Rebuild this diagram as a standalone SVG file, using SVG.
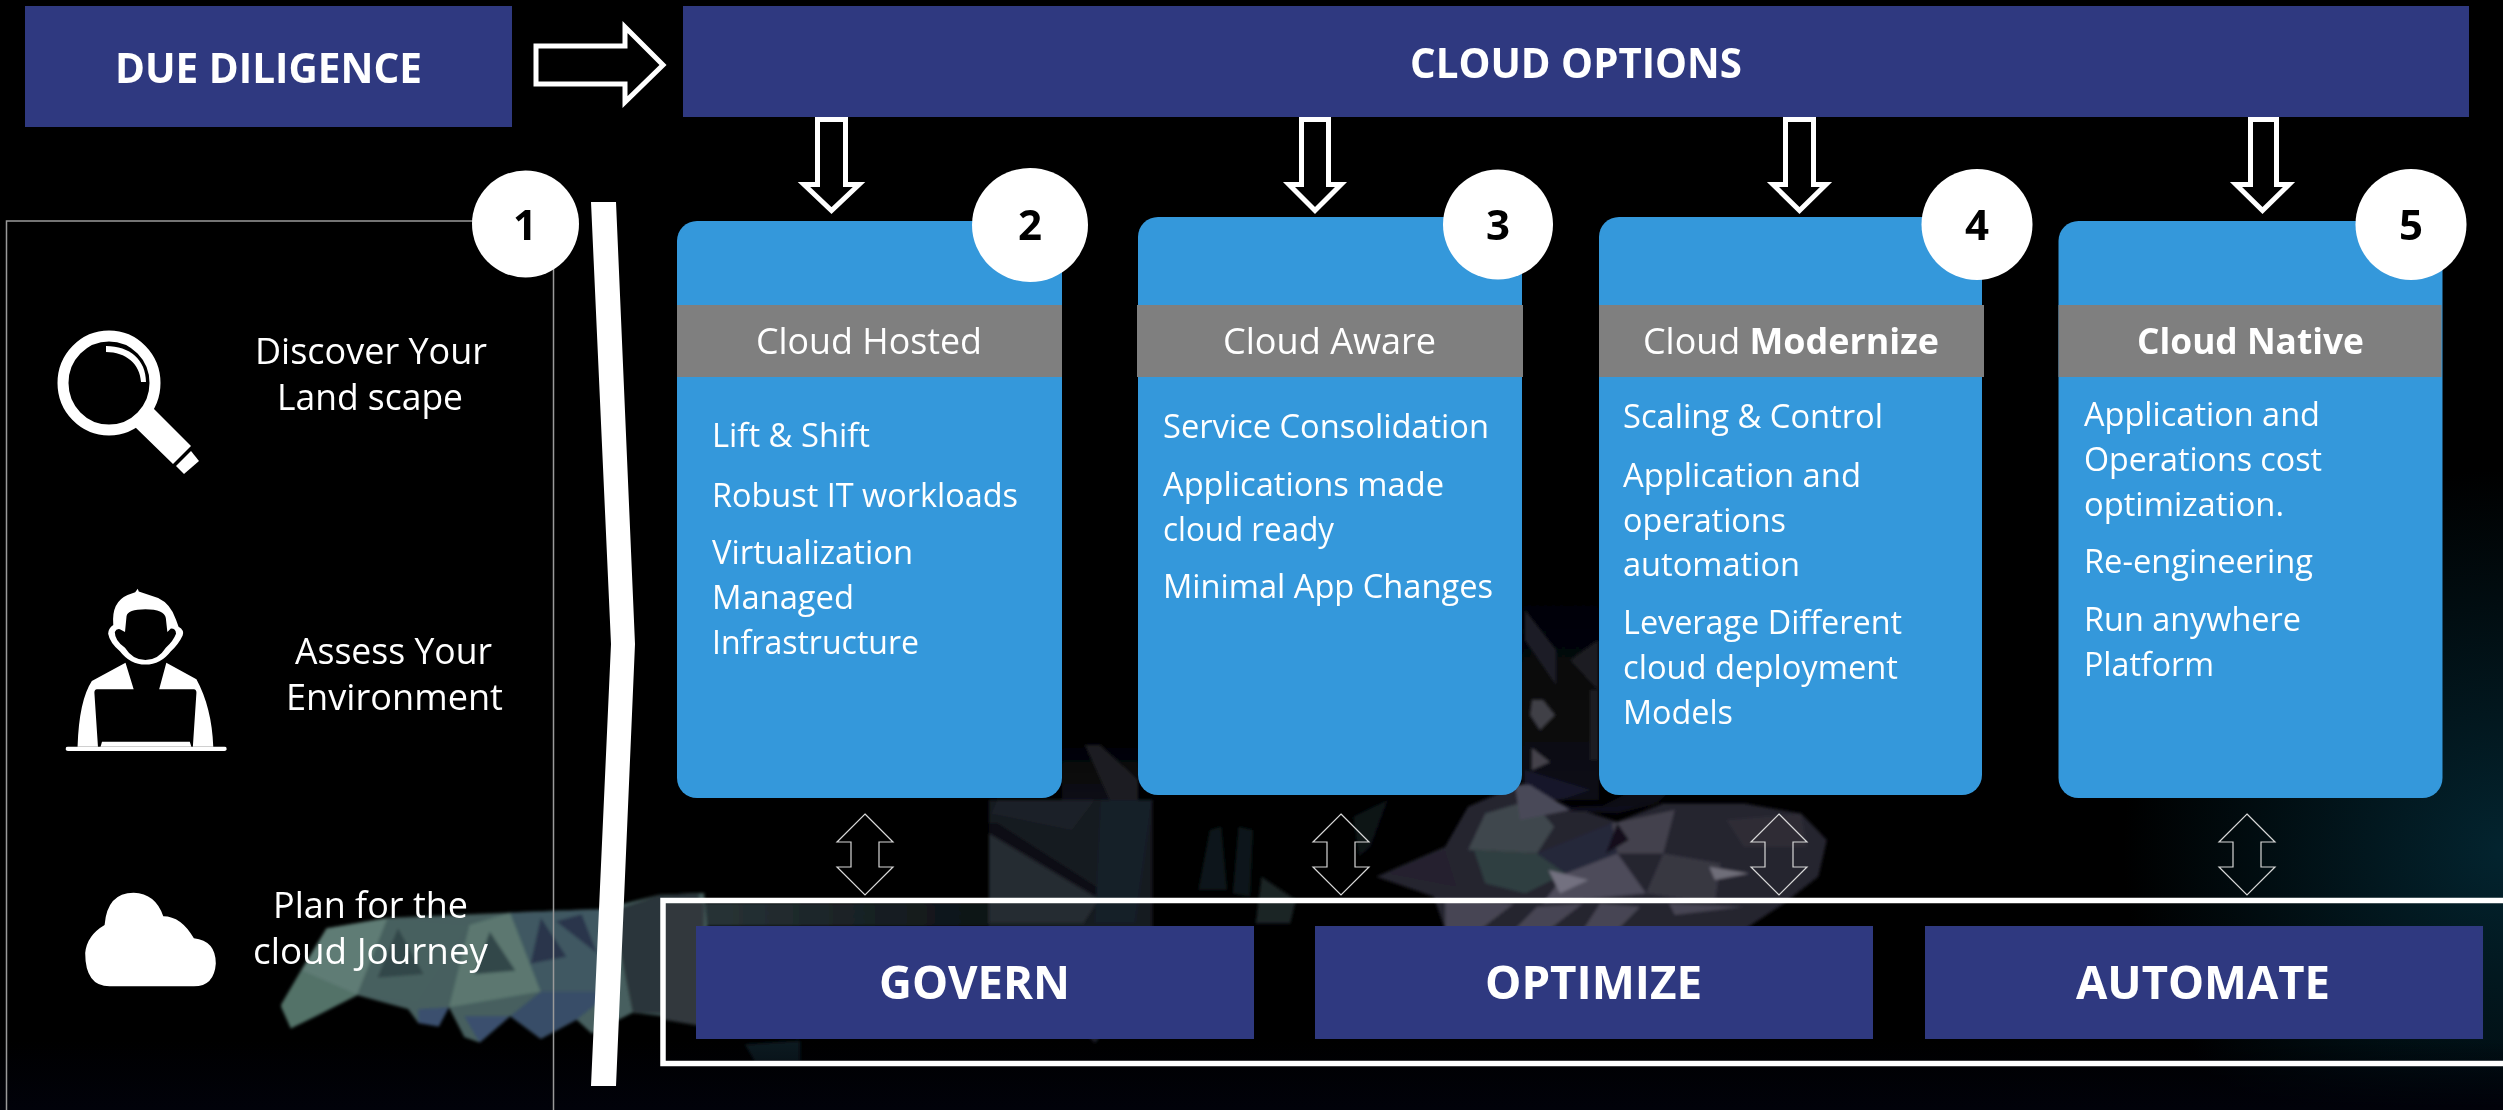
<svg xmlns="http://www.w3.org/2000/svg" width="2503" height="1110" viewBox="0 0 2503 1110">
<style>
text{font-family:"Open Sans","Noto Sans","Liberation Sans",sans-serif;fill:#fff}
.h{font-weight:700;font-size:42px;text-anchor:middle}
.g{font-weight:700;font-size:46px}
.t{font-size:36px}
.c{font-size:36px}
.b{font-size:32px}
.n{font-weight:700;font-size:42px;fill:#000;text-anchor:middle}
.navy{fill:#2f3980}
.card{fill:#3498db}
.band{fill:#7f7f7f}
.hollow{fill:#000;stroke:#fff;stroke-width:5}
.thin{fill:none;stroke:#d8d8d8;stroke-width:1.2}
.dot{fill:#fff}
</style>
<defs>
<radialGradient id="teal" gradientUnits="userSpaceOnUse" cx="2503" cy="850" r="380"><stop offset="0" stop-color="#03242f"/><stop offset="1" stop-color="#03242f" stop-opacity="0"/></radialGradient>
<linearGradient id="fade" x1="0" y1="0" x2="0" y2="1"><stop offset="0" stop-color="#01020a" stop-opacity="0"/><stop offset="1" stop-color="#01020a"/></linearGradient>
<linearGradient id="gapfade" x1="0" y1="0" x2="0" y2="1"><stop offset="0" stop-color="#0e0f15" stop-opacity="0"/><stop offset="1" stop-color="#0e0f15"/></linearGradient>
<linearGradient id="stripfade" x1="0" y1="0" x2="1" y2="0"><stop offset="0" stop-color="#2c383b"/><stop offset="1" stop-color="#0c1216"/></linearGradient>
<filter id="soft" x="-5%" y="-5%" width="110%" height="110%"><feGaussianBlur stdDeviation="1.5"/></filter>
</defs>
<g id="background">
<rect width="2503" height="1110" fill="#000"/>
<rect x="1900" y="450" width="603" height="660" fill="url(#teal)"/>
<g filter="url(#soft)">
<rect x="666" y="903" width="323" height="23" fill="url(#stripfade)"/>
<g id="poly-tail" transform="translate(0 560) scale(.5102 .3509)">
<path d="M550 1270 590 1170 640 1050 760 1020 1000 1005 1180 995 1290 955 1380 950 1400 1300 1300 1300 1240 1290 1160 1350 1130 1310 1060 1365 1000 1300 940 1375 910 1360 880 1275 820 1320 800 1280 700 1240 620 1300 570 1335Z" fill="#465f5e"/>
<path d="M640 1050 760 1020 700 1240 590 1170Z" fill="#5f7c74"/>
<path d="M760 1020 920 1040 820 1260 700 1240Z" fill="#47605f"/>
<path d="M920 1040 1000 1005 1060 1230 880 1275Z" fill="#5b7770"/>
<path d="M1000 1005 1180 995 1200 1230 1060 1230Z" fill="#3f5862"/>
<path d="M1060 1230 1200 1230 1130 1310 1060 1365 1000 1300Z" fill="#384d68"/>
<path d="M820 1280 880 1275 860 1330 820 1320Z M910 1300 1000 1300 940 1375Z" fill="#3a4f6e"/>
<path d="M590 1170 700 1240 570 1335 550 1270Z" fill="#527268"/>
<path d="M1200 1000 1290 955 1370 950 1380 1300 1240 1290Z" fill="#2b363a"/>
<path d="M1060 1020 1110 1130 1040 1150Z M1140 1010 1170 1120 1090 1030Z" fill="#2a354c"/>
<path d="M780 1050 830 1180 740 1190Z M960 1060 1010 1170 930 1180Z" fill="#33474a"/>
<path d="M1300 980 1380 970 1380 1330 1300 1310Z" fill="#30393c"/>
<path d="M1460 1380 1568 1370 1568 1430 1480 1430Z" fill="#0e1c22"/>
</g>
<g id="poly-centre" transform="translate(940 790) scale(.574 .3333)" opacity=".9">
<path d="M85 30H370V420H85Z" fill="#181c22"/>
<path d="M85 130 280 320 250 400 85 400Z" fill="#2b3037"/>
<path d="M85 100 100 100 290 310 275 325 85 130Z" fill="#11131b"/>
<path d="M100 30 270 30 230 120 90 70Z" fill="#21252c"/>
<path d="M280 30 370 30 340 400 270 400Z" fill="#18222e"/>
<path d="M470 120 490 110 500 300 450 300Z M520 110 545 120 540 320 510 310Z" fill="#10171c"/>
<path d="M560 260 620 330 610 400 550 400Z" fill="#1e292b"/>
<path d="M720 80 780 30 750 170 730 200Z" fill="#0e1418"/>
<path d="M480 420 540 600 500 650 470 520Z" fill="#2d3d40"/>
<path d="M225 680H305L270 760Z" fill="#22242e"/>
<path d="M760 260 880 170 920 50 1000 -10 1100 50 1180 95 1260 40 1400 40 1500 70 1545 150 1530 260 1470 340 1400 420H880L860 320Z" fill="#2b2a36"/>
<path d="M920 180 950 70 1030 30 1070 110 1040 190Z" fill="#454f55"/>
<path d="M930 180 1040 190 1090 250 1020 310 950 280Z" fill="#354649"/>
<path d="M1040 190 1170 100 1180 190 1090 250Z" fill="#2b2c42"/>
<path d="M1170 100 1280 60 1260 190 1180 190Z" fill="#4b4956"/>
<path d="M1090 250 1180 190 1230 310 1050 340Z" fill="#565464"/>
<path d="M1060 240 1130 270 1080 310Z" fill="#807e8e"/>
<path d="M1230 310 1260 190 1360 220 1350 340Z" fill="#3e3d4a"/>
<path d="M1340 230 1410 250 1350 270Z" fill="#7d7a87"/>
<path d="M1370 90 1500 70 1510 170 1400 170Z" fill="#33323c"/>
<path d="M1180 100 1160 190 1200 150Z" fill="#14131c"/>
<path d="M1000 -10 1100 50 1250 40 1180 70 1060 60Z" fill="#12111c"/>
<path d="M780 250 880 180 900 290Z" fill="#272636"/>
<path d="M880 330 1000 340 940 420 880 420Z M1040 350 1120 340 1060 420 1000 420Z M1150 340 1220 350 1180 420 1120 420Z M1270 340 1400 350 1280 375Z" fill="#504e5c"/>
<path d="M1220 -10 1280 -10 1250 40 1150 50Z" fill="#0d0c14"/>
</g>
<g id="poly-gaps">
<path d="M1522 540H1599V800H1522Z" fill="url(#gapfade)"/>
<path d="M1525 610 1556 650 1556 685 1525 640Z" fill="#1e1e25"/>
<path d="M1532 700 1543 700 1555 715 1540 730 1530 715Z" fill="#403f47"/>
<path d="M1532 748 1550 762 1532 770Z" fill="#44434b"/>
<path d="M1570 660 1598 640 1598 690Z" fill="#1a1a21"/>
<path d="M1590 690H1598V760H1590Z" fill="#1d1d24"/>
<path d="M1525 770 1590 790 1560 800 1525 795Z" fill="#16182a"/>
<path d="M1515 785 1530 785 1570 810 1520 820Z" fill="#4a4958"/>
<path d="M1062 730H1138V800H1062Z" fill="url(#gapfade)"/>
<path d="M1085 745 1100 745 1138 780 1138 800 1110 800Z" fill="#1c1f24"/>
</g>
</g>
<rect y="1040" width="2503" height="70" fill="url(#fade)"/>
</g>
<g id="connectors">
<path class="hollow" d="M536 46H625V27L663 65 625 102V84H536Z"/>
<path class="hollow" d="M817.500 119.500V184.500H804L831.500 210.500 859 184.500H845.500V119.500Z"/>
<path class="hollow" d="M1301.500 119.500V184.500H1289L1315 210.500 1341 184.500H1328.500V119.500Z"/>
<path class="hollow" d="M1785.500 119.500V184.500H1773L1799.500 210.500 1826 184.500H1813.500V119.500Z"/>
<path class="hollow" d="M2250.500 119.500V184.500H2236L2262.500 210.500 2289 184.500H2276.500V119.500Z"/>
<path class="thin" d="M865 814 893 842H879V867H893L865 895 837 867H851V842H837Z"/>
<path class="thin" d="M1341 814 1369 842H1355V867H1369L1341 895 1313 867H1327V842H1313Z"/>
<path class="thin" d="M1779 814 1807 842H1793V867H1807L1779 895 1751 867H1765V842H1751Z"/>
<path class="thin" d="M2247 814 2275 842H2261V867H2275L2247 895 2219 867H2233V842H2219Z"/>
<path id="chevron" fill="#fff" d="M591 202H616L635 644 616 1086H591L611 644Z"/>
</g>
<g id="due-diligence"><rect class="navy" x="25" y="6" width="487" height="121"/><text class="h" x="268.500" y="83" textLength="307" lengthAdjust="spacingAndGlyphs">DUE DILIGENCE</text></g>
<g id="cloud-options"><rect class="navy" x="683" y="6" width="1786" height="111"/><text class="h" x="1576" y="78" textLength="332" lengthAdjust="spacingAndGlyphs">CLOUD OPTIONS</text></g>
<g id="journey">
<rect x="6.500" y="221" width="547" height="900" fill="none" stroke="#9a9a9a" stroke-width="1.500"/>
<circle class="dot" cx="525.500" cy="224" r="53.500"/><text class="n" x="525" y="240">1</text>
<g id="icon-search" fill="#fff">
<ellipse cx="109" cy="383" rx="46" ry="47" fill="none" stroke="#fff" stroke-width="11"/>
<path d="M106 346C130 346 146 360 146 382H141C140 364 126 352 106 352Z"/>
<path d="M152 407 191 446 173 464 134 426C142 422 148 416 152 407Z"/>
<path d="M191 451 199 461 184 474 176 466Z"/>
</g>
<text class="t" x="255" y="364" textLength="232" lengthAdjust="spacingAndGlyphs">Discover Your</text>
<text class="t" x="277" y="410" textLength="186" lengthAdjust="spacingAndGlyphs">Land scape</text>
<g id="icon-person" fill="#fff" transform="translate(0 560) scale(.5102 .3509)">
<path fill-rule="evenodd" d="M270 82 272 90 310 108Q335 125 345 170L350 190Q362 200 358 215 350 240 335 260 315 298 285 298 255 298 235 260 215 235 212 210 212 195 222 185 218 120 250 100L265 92ZM248 160Q250 140 285 140 322 140 325 165L328 205 335 195Q345 195 345 210 340 230 325 250 310 285 285 285 260 285 245 250 225 230 225 205 228 195 235 197L245 205Z"/>
<path d="M246 293 262 368H190Q185 368 185 378L192 532H152Q155 400 180 345Z"/>
<path d="M326 293 312 368H380Q385 368 385 378L378 532H418Q415 420 385 340Z"/>
<path d="M200 518H372L375 532H197Z"/>
<rect x="129" y="532" width="315" height="12" rx="4"/>
</g>
<text class="t" x="295" y="664" textLength="197" lengthAdjust="spacingAndGlyphs">Assess Your</text>
<text class="t" x="286" y="710" textLength="217" lengthAdjust="spacingAndGlyphs">Environment</text>
<g id="icon-cloud" fill="#fff" transform="translate(0 560) scale(.5102 .3509)">
<path d="M215 1215Q167 1215 167 1120 170 1070 205 1040 210 948 262 948 305 950 320 1015 355 1015 380 1078 423 1085 423 1150 420 1215 380 1215Z"/>
</g>
<text class="t" x="273" y="918" textLength="195" lengthAdjust="spacingAndGlyphs">Plan for the</text>
<text class="t" x="253" y="964" textLength="235" lengthAdjust="spacingAndGlyphs">cloud Journey</text>
</g>
<g id="cloud-hosted">
<rect class="card" x="677" y="221" width="385" height="577" rx="20"/><rect class="band" x="677" y="305" width="385" height="72"/>
<ellipse class="dot" cx="1030" cy="225" rx="58" ry="57"/><text class="n" x="1030" y="240">2</text>
<text class="c" x="756" y="354" textLength="226" lengthAdjust="spacingAndGlyphs">Cloud Hosted</text>
<text class="b" x="712" y="447" textLength="158" lengthAdjust="spacingAndGlyphs">Lift &amp; Shift</text>
<text class="b" x="712" y="507" textLength="306" lengthAdjust="spacingAndGlyphs">Robust IT workloads</text>
<text class="b" x="712" y="564" textLength="201" lengthAdjust="spacingAndGlyphs">Virtualization</text>
<text class="b" x="712" y="609" textLength="142" lengthAdjust="spacingAndGlyphs">Managed</text>
<text class="b" x="712" y="654" textLength="207" lengthAdjust="spacingAndGlyphs">Infrastructure</text>
</g>
<g id="cloud-aware">
<rect class="card" x="1138" y="217" width="384" height="578" rx="20"/><rect class="band" x="1137" y="305" width="386" height="72"/>
<circle class="dot" cx="1498" cy="224.500" r="55"/><text class="n" x="1498" y="240">3</text>
<text class="c" x="1223" y="354" textLength="213" lengthAdjust="spacingAndGlyphs">Cloud Aware</text>
<text class="b" x="1163" y="438" textLength="326" lengthAdjust="spacingAndGlyphs">Service Consolidation</text>
<text class="b" x="1163" y="496" textLength="281" lengthAdjust="spacingAndGlyphs">Applications made</text>
<text class="b" x="1163" y="541" textLength="171" lengthAdjust="spacingAndGlyphs">cloud ready</text>
<text class="b" x="1163" y="598" textLength="330" lengthAdjust="spacingAndGlyphs">Minimal App Changes</text>
</g>
<g id="cloud-modernize">
<rect class="card" x="1599" y="217" width="383" height="578" rx="20"/><rect class="band" x="1599" y="305" width="385" height="72"/>
<circle class="dot" cx="1977" cy="224.500" r="55.500"/><text class="n" x="1977" y="240">4</text>
<text class="c" x="1643" y="354" textLength="296" lengthAdjust="spacingAndGlyphs">Cloud <tspan font-weight="700">Modernize</tspan></text>
<text class="b" x="1623" y="428" textLength="260" lengthAdjust="spacingAndGlyphs">Scaling &amp; Control</text>
<text class="b" x="1623" y="487" textLength="238" lengthAdjust="spacingAndGlyphs">Application and</text>
<text class="b" x="1623" y="532" textLength="163" lengthAdjust="spacingAndGlyphs">operations</text>
<text class="b" x="1623" y="576" textLength="177" lengthAdjust="spacingAndGlyphs">automation</text>
<text class="b" x="1623" y="634" textLength="279" lengthAdjust="spacingAndGlyphs">Leverage Different</text>
<text class="b" x="1623" y="679" textLength="275" lengthAdjust="spacingAndGlyphs">cloud deployment</text>
<text class="b" x="1623" y="724" textLength="110" lengthAdjust="spacingAndGlyphs">Models</text>
</g>
<g id="cloud-native">
<rect class="card" x="2058.500" y="221" width="384" height="577" rx="20"/><rect class="band" x="2058.500" y="305" width="383" height="72"/>
<circle class="dot" cx="2411" cy="224.500" r="55.500"/><text class="n" x="2411" y="240">5</text>
<text class="c" x="2137" y="354" font-weight="700" textLength="227" lengthAdjust="spacingAndGlyphs">Cloud Native</text>
<text class="b" x="2084" y="426" textLength="236" lengthAdjust="spacingAndGlyphs">Application and</text>
<text class="b" x="2084" y="471" textLength="238" lengthAdjust="spacingAndGlyphs">Operations cost</text>
<text class="b" x="2084" y="516" textLength="200" lengthAdjust="spacingAndGlyphs">optimization.</text>
<text class="b" x="2084" y="573" textLength="229" lengthAdjust="spacingAndGlyphs">Re-engineering</text>
<text class="b" x="2084" y="631" textLength="217" lengthAdjust="spacingAndGlyphs">Run anywhere</text>
<text class="b" x="2084" y="676" textLength="130" lengthAdjust="spacingAndGlyphs">Platform</text>
</g>
<g id="pillars">
<rect x="663" y="900.500" width="1900" height="163" fill="none" stroke="#fff" stroke-width="5.500"/>
<g id="govern"><rect class="navy" x="696" y="926" width="558" height="113"/><text class="g" x="879" y="999" textLength="191" lengthAdjust="spacingAndGlyphs">GOVERN</text></g>
<g id="optimize"><rect class="navy" x="1315" y="926" width="558" height="113"/><text class="g" x="1485" y="999" textLength="217" lengthAdjust="spacingAndGlyphs">OPTIMIZE</text></g>
<g id="automate"><rect class="navy" x="1925" y="926" width="558" height="113"/><text class="g" x="2076" y="999" textLength="254" lengthAdjust="spacingAndGlyphs">AUTOMATE</text></g>
</g>
</svg>
